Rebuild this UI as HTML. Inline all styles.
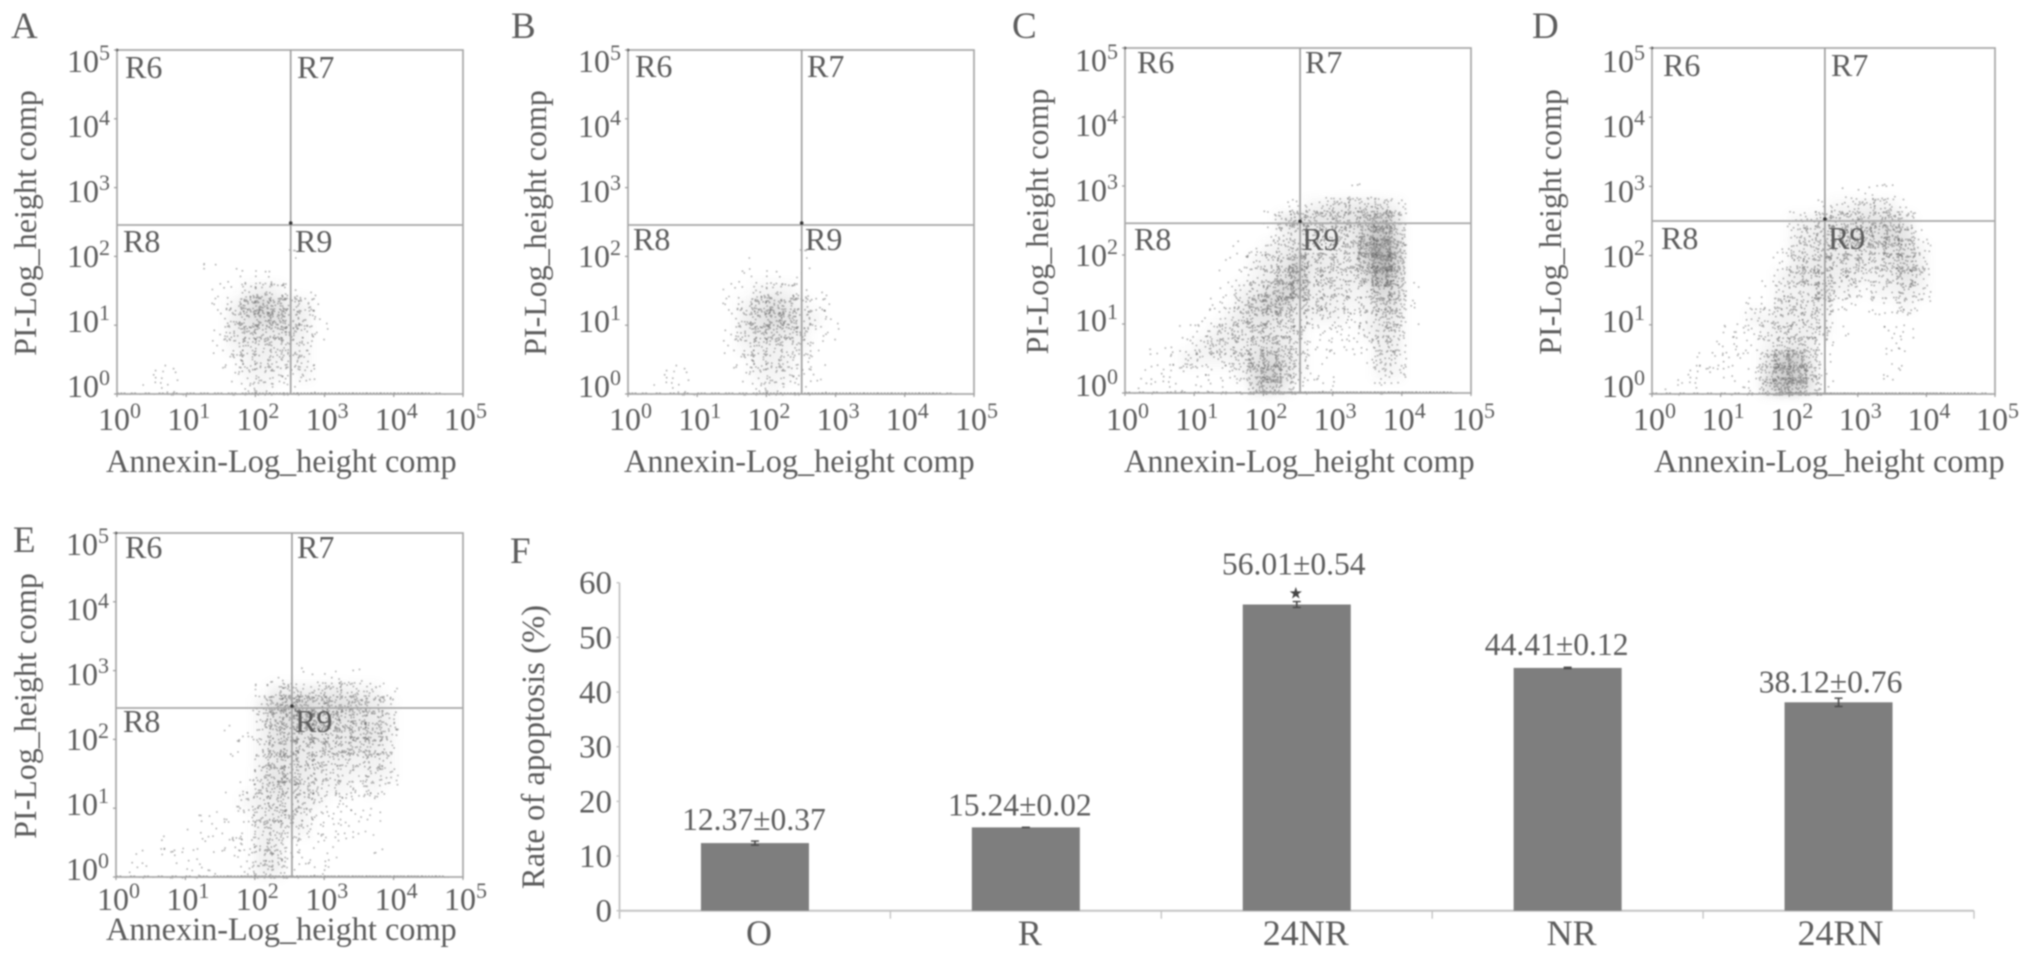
<!DOCTYPE html>
<html lang="en">
<head>
<meta charset="utf-8">
<title>Flow cytometry apoptosis panels</title>
<style>
html,body{margin:0;padding:0;background:#fff;width:2031px;height:960px;overflow:hidden}
svg{display:block;filter:blur(.75px)}
text{font-family:"Liberation Serif",serif;fill:#5c5c5c}
</style>
</head>
<body>
<svg id="figure" xmlns="http://www.w3.org/2000/svg" width="2031" height="960" viewBox="0 0 2031 960">
<defs><filter id="soften" x="-20%" y="-20%" width="140%" height="140%"><feGaussianBlur stdDeviation="5"/></filter></defs>
</svg>
<script>
/* Scatter panels: event density, one hex digit per 0.2-decade bin.
   Rows run from the highest listed PI bin down to the lowest (row index 0 = 10^0..10^0.2). */
const densityA = ["0000000000001","0000001","000000001111","00000001123211","000000012585321","000000013576431","000000013444421","00000001233322","00000001123222","00110000122212","00111000112111"];
const densityB = ["0000000000001","000000001","0000000001101","00000001122211","000000012464211","000000013575321","000000013454311","00000001233221","00000001123211","00110000122211","00111000112111"];
const densityC = ["00000000000000001","00000000000112344442","00000000001455555795","000000000012333348c6","00000000112343334af9","000000011234844338f9","000000001235934336d8","000000012358833323861","000000113587433222551","000001124554322212441","00001123344331111243","00011233345421111133","00112222357521100132","01111111269521100022","0111010116841110001"];
const densityD = ["000000000000001111","0000000000001223321","0000000000224445553","00000000002344556751","00000000013344444552","00000000013444433463","00000000024443322353","00000000122352212232","00000001133331111121","0000001223332100011","0000011123332100011","0000111123431000011","0001111149a4100001","001111015aa5100001","011000116ba51"];
const densityE = ["000000000001010101","00000000001333343221","00000000003678666542","00000000002568655443","00000000112555544453","00000000102554444442","00000000002444333232","00000000013544322222","00000000013543222121","0000000012333321111","0000001011343211111","000001011133221111","0001001111331111001","0101110011331111","010011100133111"];
/* Events piled on the lower axis, one hex digit per 0.2-decade bin. */
const baselineA = "2111122223333333333333210";
const baselineB = "2111122223333333333333210";
const baselineC = "1111111113666655555553320";
const baselineD = "1111111124666655555554321";
const baselineE = "1111112345555555555555320";
/* Quadrant gates in log10 units. */
const gateXValues = [2.51, 2.51, 2.53, 2.52, 2.535];
const gateYValues = [2.456, 2.456, 2.46, 2.5, 2.456];
/* Tick exponents shared by both scatter axes. */
const tickExponents = [0, 1, 2, 3, 4, 5];

/* Bar chart values. */
const barCategories = ["O", "R", "24NR", "NR", "24RN"];
const barValues = [12.37, 15.24, 56.01, 44.41, 38.12];
const barErrors = [0.37, 0.02, 0.54, 0.12, 0.76];
const barTicks = [0, 10, 20, 30, 40, 50, 60];
const significantFlags = [false, false, true, false, false];

/* Layout */
const panelFrames = [
 {id:"a",letter:"A",lx:11,ly:38,left:117,right:463,top:50,bottom:394,tickGap:36,titleGap:78,titleX:106,yTitleX:36,r6:[125,78],r7:[297,78],r8:[123,252],r9:[295,252]},
 {id:"b",letter:"B",lx:511,ly:38,left:628,right:974,top:50,bottom:394,tickGap:36,titleGap:78,titleX:624,yTitleX:546,r6:[635,77],r7:[807,77],r8:[633,250],r9:[805,250]},
 {id:"c",letter:"C",lx:1012,ly:38,left:1125,right:1471,top:48,bottom:393,tickGap:37,titleGap:79,titleX:1124,yTitleX:1048,r6:[1137,73],r7:[1305,73],r8:[1134,250],r9:[1302,250]},
 {id:"d",letter:"D",lx:1532,ly:38,left:1652,right:1995,top:48,bottom:394,tickGap:36,titleGap:78,titleX:1654,yTitleX:1561,r6:[1663,76],r7:[1831,76],r8:[1661,249],r9:[1828,249]},
 {id:"e",letter:"E",lx:13,ly:552,left:116,right:463,top:533,bottom:877,tickGap:33,titleGap:63,titleX:106,yTitleX:36,r6:[125,558],r7:[297,558],r8:[123,732],r9:[295,732]}
];
const densities = [densityA, densityB, densityC, densityD, densityE];
const baselines = [baselineA, baselineB, baselineC, baselineD, baselineE];
const DOTS_PER_UNIT = 6;
const BIN = 0.2;
const SVGNS = "http://www.w3.org/2000/svg";
const figure = document.getElementById("figure");

function make(tag, parent, name, attrs) {
  const el = document.createElementNS(SVGNS, tag);
  
  
  for (const k in attrs) el.setAttribute(k, attrs[k]);
  parent.appendChild(el);
  return el;
}
function label(parent, name, str, x, y, size, opts) {
  opts = opts || {};
  const rot = opts.rotate ? " rotate(-90)" : "";
  const el = make("text", parent, name, {
    transform: "translate(" + x + " " + y + ")" + rot,
    "font-size": size,
    "text-anchor": opts.anchor || "start"
  });
  if (opts.fill) el.style.fill = opts.fill;
  el.textContent = str;
  return el;
}
function powerLabel(parent, name, exp, x, y) {
  const el = make("text", parent, name, {
    transform: "translate(" + x + " " + y + ")",
    "font-size": 32
  });
  el.appendChild(document.createTextNode("10"));
  const sup = document.createElementNS(SVGNS, "tspan");
  sup.setAttribute('dy', '-12');
  sup.setAttribute('font-size', '22');
  sup.textContent = String(exp);
  el.appendChild(sup);
}
function line(parent, name, x1, y1, x2, y2, color, width) {
  return make("line", parent, name, {x1:x1,y1:y1,x2:x2,y2:y2,stroke:color,"stroke-width":width});
}
/* Scatter offset of one stipple dot inside its density bin; bin counts come from the density arrays. */
function stipple(c, r, k) {
  const s = Math.sin(c * 12.9898 + r * 78.233 + k * 37.719) * 43758.5453;
  return s - Math.floor(s);
}

function drawPanel(frame, rows, strip, gateX, gateY) {
  const xOf = v => frame.left + (frame.right - frame.left) * v / 5;
  const yOf = v => frame.bottom - (frame.bottom - frame.top) * v / 5;
  const g = make("g", figure, "flow-panel-" + frame.id, {});
  label(g, "panel-letter-" + frame.id, frame.letter, frame.lx, frame.ly, 37);

  const top = rows.length - 1;
  const haze = make("g", g, "event-density-haze", {fill:"#777",filter:"url(#soften)"});
  const cloud = make("g", g, "event-cloud", {fill:"#666","fill-opacity":"0.5"});
  rows.forEach((row, i) => {
    const r = top - i;
    for (let c = 0; c < row.length; c++) {
      const v = parseInt(row[c], 16);
      if (!v) continue;
      if (v > 1) {
        make("rect", haze, "density-haze-bin", {
          x: xOf(c * BIN), y: yOf((r + 1) * BIN),
          width: xOf(BIN) - xOf(0), height: yOf(0) - yOf(BIN),
          "fill-opacity": (v * 0.035).toFixed(3)
        });
      }
      let d = "";
      const n = v === 1 ? 4 : v * DOTS_PER_UNIT;
      for (let k = 0; k < n; k++) {
        const u = stipple(c, r, k) * 1.5 - 0.25;
        const w = stipple(c, r, k + 0.5) * 1.5 - 0.25;
        const lx = (c + u) * BIN, ly = Math.max(0, (r + w) * BIN);
        d += "M" + xOf(lx).toFixed(1) + " " + yOf(ly).toFixed(1) + "h1.6v1.6h-1.6z";
      }
      make("path", cloud, "density-bin", {d:d});
    }
  });

  const axisPile = make("g", g, "axis-events", {fill:"#555","fill-opacity":"0.6"});
  for (let c = 0; c < strip.length; c++) {
    const v = parseInt(strip[c], 16);
    if (!v) continue;
    let d = "";
    for (let k = 0; k < v * 3; k++) {
      d += "M" + xOf((c + ((k * 0.6180) % 1)) * BIN).toFixed(1) + " " + (frame.bottom - 1.5 + (k % 2)) + "h2v1.4h-2z";
    }
    make("path", axisPile, "axis-event-bin", {d:d});
  }

  make("rect", g, "plot-frame", {x:frame.left,y:frame.top,width:frame.right-frame.left,height:frame.bottom-frame.top,fill:"none",stroke:"#a8a8a8","stroke-width":"1.7"});
  line(g, "gate-vertical", xOf(gateX), frame.top, xOf(gateX), frame.bottom, "#a0a0a0", 1.7);
  line(g, "gate-horizontal", frame.left, yOf(gateY), frame.right, yOf(gateY), "#a8a8a8", 1.7);
  make("circle", g, "gate-handle", {cx:xOf(gateX),cy:yOf(gateY)-2,r:1.8,fill:"#333"});
  make("circle", g, "frame-handle", {cx:frame.left,cy:frame.top,r:1.4,fill:"#555"});

  tickExponents.forEach((e, i) => {
    line(g, "x-tick", xOf(e), frame.bottom, xOf(e), frame.bottom + 3, "#999", 1.2);
    line(g, "y-tick", frame.left - 3, yOf(e), frame.left, yOf(e), "#999", 1.2);
    powerLabel(g, "x-tick-label", e, xOf(e) - 19, frame.bottom + frame.tickGap);
    powerLabel(g, "y-tick-label", e, frame.left - 50, frame.bottom + 3 - i * 65);
  });
  label(g, "x-axis-title", "Annexin-Log_height comp", frame.titleX, frame.bottom + frame.titleGap, 32.3);
  label(g, "y-axis-title", "PI-Log_height comp", frame.yTitleX, (frame.top + frame.bottom) / 2 + 1, 32, {rotate:true, anchor:"middle"});
  ["r6", "r7", "r8", "r9"].forEach(key => {
    label(g, "region-label-" + key, key.toUpperCase(), frame[key][0], frame[key][1], 32);
  });
}

panelFrames.forEach((frame, i) => {
  drawPanel(frame, densities[i], baselines[i], gateXValues[i], gateYValues[i]);
});

/* Panel F */
(function drawBars() {
  const g = make("g", figure, "apoptosis-bar-chart", {});
  const plot = {left:619.5, right:1974, zero:910.7, top:582.7, max:60};
  const yOf = v => plot.zero - (plot.zero - plot.top) * v / plot.max;
  const step = (plot.right - plot.left) / barCategories.length;
  const barWidth = 108;
  const labelNudge = [{dx:-1,gap:13},{dx:-6,gap:12},{dx:-3,gap:30},{dx:-11,gap:13},{dx:-8,gap:10}];
  const catNudge = [4, 4, 9, 4, 2];

  label(g, "panel-letter-f", "F", 510, 563, 37);
  label(g, "y-axis-title", "Rate of apoptosis (%)", 544, 747, 32.7, {rotate:true, anchor:"middle"});
  line(g, "y-axis", plot.left, plot.top, plot.left, plot.zero + 8, "#c4c4c4", 1.8);
  line(g, "x-axis", plot.left, plot.zero, plot.right, plot.zero, "#c4c4c4", 2);

  barTicks.forEach(t => {
    line(g, "y-tick", plot.left - 3, yOf(t), plot.left, yOf(t), "#c4c4c4", 1.4);
    label(g, "y-tick-label", String(t), 612, yOf(t) + 11, 33, {anchor:"end"});
  });
  barCategories.forEach((cat, i) => {
    const cx = plot.left + step * (i + 0.5);
    line(g, "x-tick", plot.left + step * (i + 1), plot.zero, plot.left + step * (i + 1), plot.zero + 8, "#c4c4c4", 1.4);
    make("rect", g, "bar-" + cat.toLowerCase(), {x:cx - barWidth / 2, y:yOf(barValues[i]), width:barWidth, height:plot.zero - yOf(barValues[i]), fill:"#7e7e7e"});
    const hi = yOf(barValues[i] + barErrors[i]), lo = yOf(barValues[i] - barErrors[i]);
    line(g, "error-bar", cx, hi, cx, lo, "#4a4a4a", 1.6);
    line(g, "error-cap-top", cx - 4, hi, cx + 4, hi, "#4a4a4a", 1.4);
    line(g, "error-cap-bottom", cx - 4, lo, cx + 4, lo, "#4a4a4a", 1.4);
    const printed = barValues[i].toFixed(2) + "\u00b1" + barErrors[i].toFixed(2);
    label(g, "value-label", printed, cx + labelNudge[i].dx, yOf(barValues[i]) - labelNudge[i].gap, 31.6, {anchor:"middle"});
    label(g, "category-label", cat, cx + catNudge[i], 945, 36, {anchor:"middle"});
    if (significantFlags[i]) {
      const star = label(g, "significance-star", "\u2605", cx - 1, yOf(barValues[i]) - 6, 16, {anchor:"middle", fill:"#444"});
      star.style.fontFamily = '"DejaVu Sans", sans-serif';
    }
  });
})();
</script>
</body>
</html>
